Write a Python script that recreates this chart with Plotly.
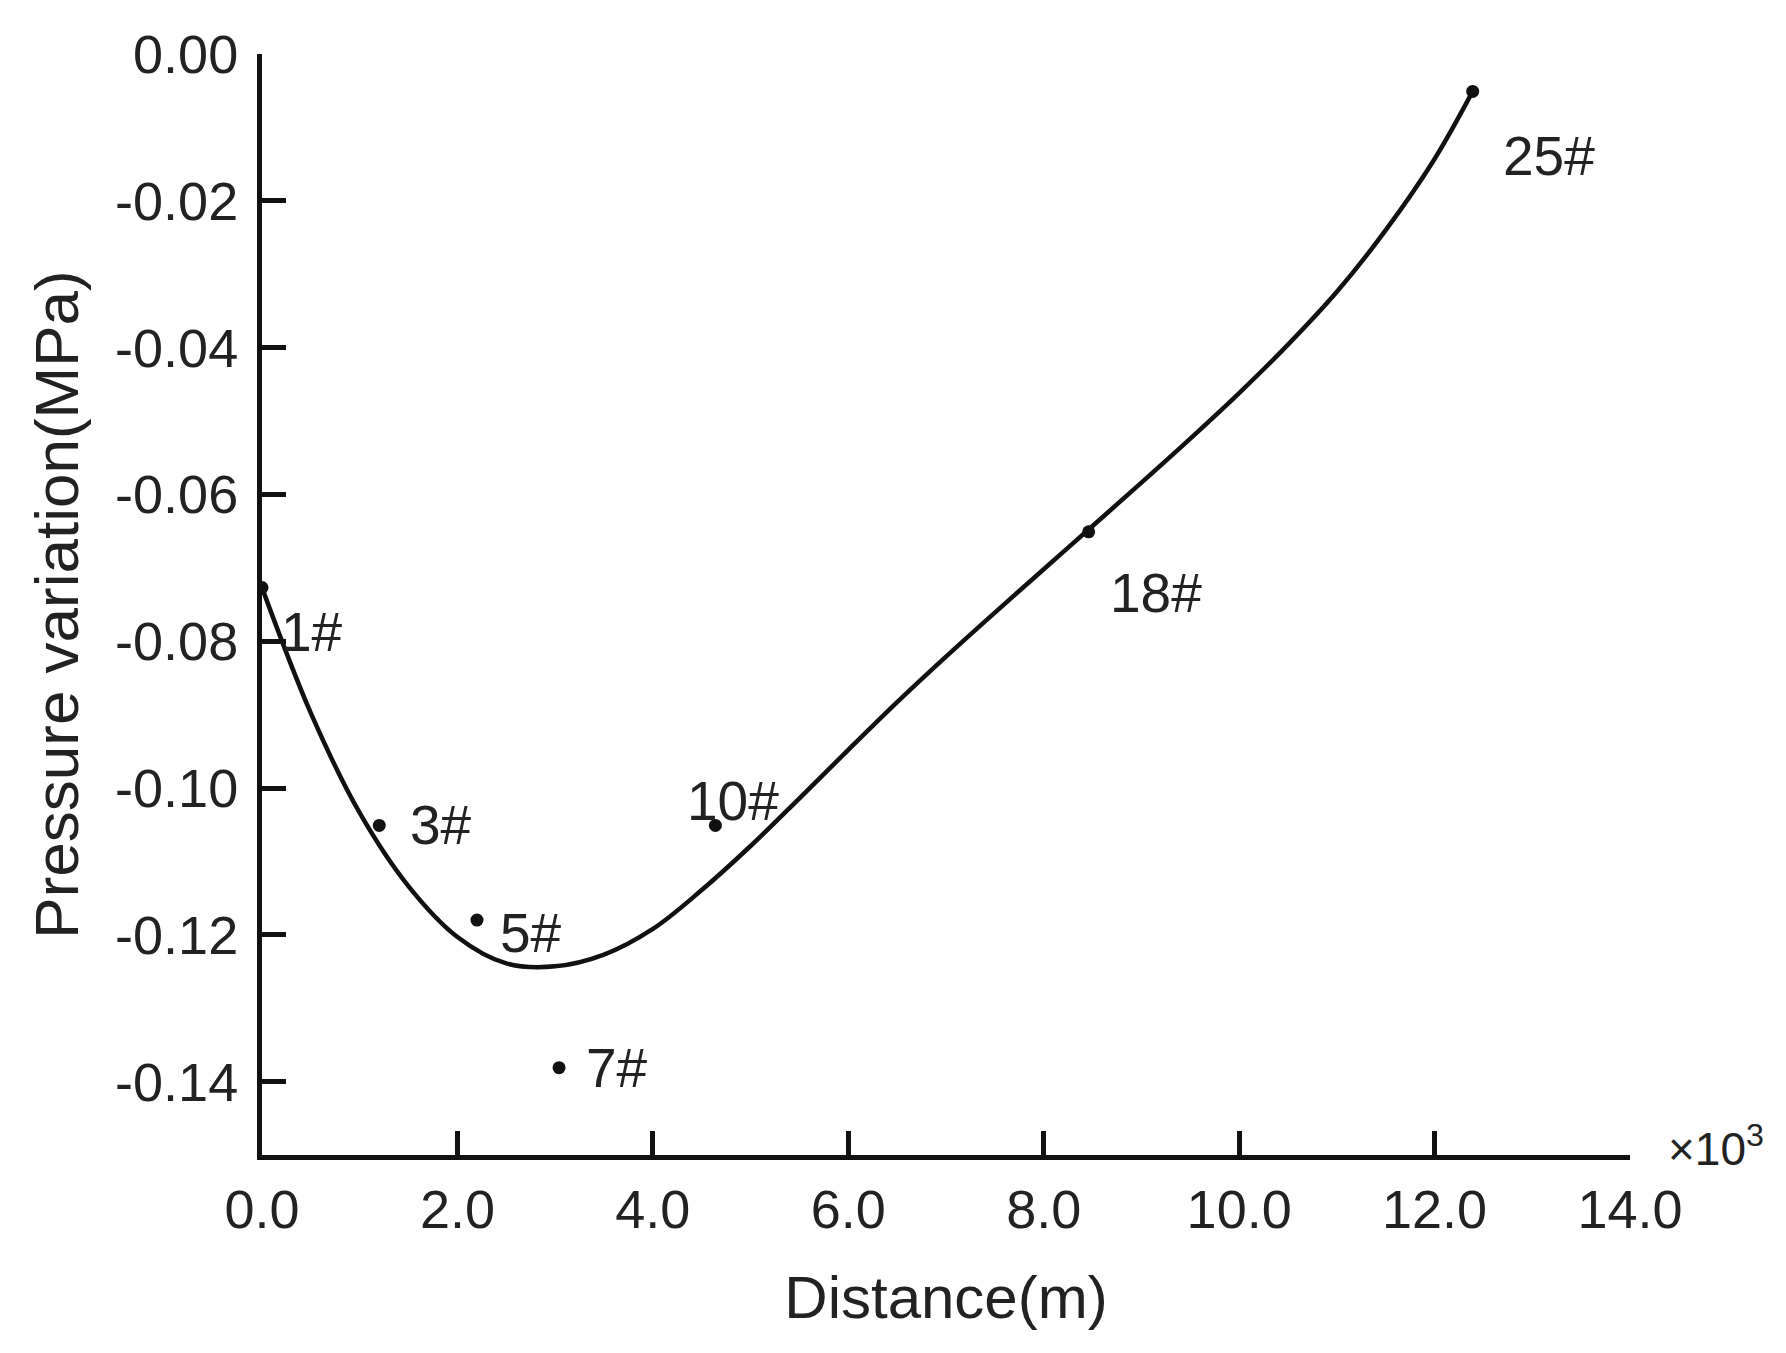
import plotly.graph_objects as go

# observation wells (distance in 10^3 m, pressure variation in MPa)
well_names = ["1#", "3#", "5#", "7#", "10#", "18#", "25#"]
well_dist = [0.0, 1.20, 2.20, 3.04, 4.64, 8.46, 12.39]
well_dp = [-0.0727, -0.1051, -0.1180, -0.1381, -0.1051, -0.0651, -0.0051]

# fitted curve
fit_dist = [0.0, 0.5, 1.0, 1.5, 2.0, 2.5, 3.0, 3.5, 4.0, 4.5, 5.0, 5.5, 6.0, 6.5,
            7.0, 7.5, 8.0, 8.5, 9.0, 9.5, 10.0, 10.5, 11.0, 11.5, 12.0, 12.39]
fit_dp = [-0.0727, -0.0898, -0.1034, -0.1134, -0.1203, -0.1239, -0.1243, -0.1227,
          -0.1192, -0.1139, -0.1079, -0.1014, -0.0948, -0.0883, -0.0821, -0.0761,
          -0.0702, -0.0643, -0.0584, -0.0524, -0.0462, -0.0396, -0.0324, -0.0240,
          -0.0143, -0.0051]

x_ticks = [0, 2, 4, 6, 8, 10, 12, 14]
x_ticktext = ["0.0", "2.0", "4.0", "6.0", "8.0", "10.0", "12.0", "14.0"]
y_ticks = [0, -0.02, -0.04, -0.06, -0.08, -0.10, -0.12, -0.14]
y_ticktext = ["0.00", "-0.02", "-0.04", "-0.06", "-0.08", "-0.10", "-0.12", "-0.14"]

# label offsets from each dot, in pixels (x right, y down)
label_offsets = [(50, 44), (62, 0), (54, 13), (58, 0), (18, -24), (67, 61), (76, 65)]

FONT = "Liberation Sans, Arial, sans-serif"
INK = "#111111"
TXT = "#222222"

fig = go.Figure()
fig.add_trace(go.Scatter(x=fit_dist, y=fit_dp, mode="lines", line_shape="spline",
                         line=dict(color=INK, width=4.5), hoverinfo="skip"))
fig.add_trace(go.Scatter(x=well_dist, y=well_dp, mode="markers",
                         marker=dict(color=INK, size=13)))

for name, xv, yv, (dx, dy) in zip(well_names, well_dist, well_dp, label_offsets):
    fig.add_annotation(x=xv, y=yv, text=name, showarrow=False, xshift=dx, yshift=-dy,
                       font=dict(family=FONT, size=55, color=TXT))

fig.add_annotation(xref="paper", yref="paper", x=1.026, y=0.008, xanchor="left",
                   yanchor="middle", text="×10<sup>3</sup>", showarrow=False,
                   font=dict(family=FONT, size=46, color=TXT))

axis_common = dict(showgrid=False, zeroline=False, showline=True, linecolor=INK,
                   linewidth=5, ticks="inside", ticklen=24, tickwidth=5, tickcolor=INK,
                   tickfont=dict(family=FONT, size=54, color=TXT),
                   mirror=False)

fig.update_xaxes(range=[0, 14], tickvals=x_ticks, ticktext=x_ticktext,
                 title=dict(text="Distance(m)", standoff=40,
                            font=dict(family=FONT, size=60, color=TXT)),
                 ticklabelstandoff=3, **axis_common)
fig.update_yaxes(range=[-0.15, 0], tickvals=y_ticks, ticktext=y_ticktext,
                 title=dict(text="Pressure variation(MPa)", standoff=18,
                            font=dict(family=FONT, size=62, color=TXT)),
                 ticklabelstandoff=8, **axis_common)

fig.update_layout(width=1770, height=1337, showlegend=False,
                  margin=dict(l=254, r=148, t=46, b=190),
                  plot_bgcolor="white", paper_bgcolor="white")

fig.write_html("out.html")
